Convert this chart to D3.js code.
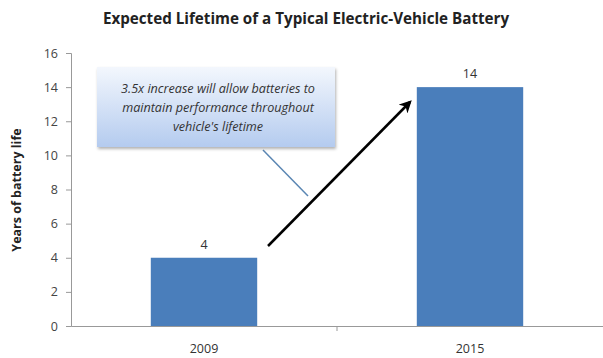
<!DOCTYPE html>
<html><head><meta charset="utf-8">
<script src="https://cdnjs.cloudflare.com/ajax/libs/d3/7.8.5/d3.min.js"></script>
<style>body{margin:0;background:#fff}svg{display:block}</style>
</head><body>
<script>
const categories = ["2009", "2015"];
const values = [4, 14];
const yTicks = [0, 2, 4, 6, 8, 10, 12, 14, 16];
const title = "Expected Lifetime of a Typical Electric-Vehicle Battery";
const yLabel = "Years of battery life";
const calloutLines = ["3.5x increase will allow batteries to", "maintain performance throughout", "vehicle's lifetime"];

const W = 603, H = 358;
const svg = d3.select("body").append("svg").attr("width", W).attr("height", H);
const font = "'Open Sans', Lato, sans-serif";

const x = d3.scaleBand().domain(categories).range([71, 603]).padding(0);
const y = d3.scaleLinear().domain([0, 16]).range([326, 53]);
const barW = x.bandwidth() * 0.4;

const defs = svg.append("defs");
const g = defs.append("linearGradient").attr("id", "cg").attr("x1", 0).attr("y1", 0).attr("x2", 0).attr("y2", 1);
g.append("stop").attr("offset", "0%").attr("stop-color", "#f3f7fd");
g.append("stop").attr("offset", "100%").attr("stop-color", "#b4cbef");
const f = defs.append("filter").attr("id", "sh").attr("x", "-10%").attr("y", "-10%").attr("width", "130%").attr("height", "140%");
f.append("feDropShadow").attr("dx", 1).attr("dy", 2).attr("stdDeviation", 1.5).attr("flood-color", "#000").attr("flood-opacity", 0.3);
const mk = defs.append("marker").attr("id", "ah").attr("viewBox", "0 0 10 10").attr("refX", 8).attr("refY", 5)
  .attr("markerWidth", 5).attr("markerHeight", 5).attr("orient", "auto").attr("markerUnits", "strokeWidth");
mk.append("path").attr("d", "M0,0 L10,5 L0,10 L3,5 Z").attr("fill", "#000");

// title
svg.append("text").attr("x", 306).attr("y", 24).attr("text-anchor", "middle")
  .attr("font-family", font).attr("font-weight", "bold").attr("font-size", 15.2).attr("fill", "#222").text(title);

// y axis
const yAxis = d3.axisLeft(y).tickValues(yTicks).tickSize(5).tickPadding(8);
const ya = svg.append("g").attr("transform", "translate(71,0)").call(yAxis);
ya.select(".domain").attr("stroke", "#999");
ya.selectAll(".tick line").attr("stroke", "#999");
ya.selectAll(".tick text").attr("font-family", font).attr("font-size", 12.5).attr("fill", "#444");

// x axis
const xa = svg.append("g").attr("transform", "translate(0,326)")
  .call(d3.axisBottom(x).tickSize(0).tickPadding(18));
xa.select(".domain").attr("stroke", "#999");
xa.selectAll(".tick text").attr("font-family", font).attr("font-size", 12.5).attr("fill", "#333");
svg.append("g").selectAll("line").data(categories.slice(1)).join("line")
  .attr("x1", d => x(d)).attr("x2", d => x(d)).attr("y1", 326).attr("y2", 331).attr("stroke", "#999");

// y label
svg.append("text").attr("transform", "translate(21,190) rotate(-90)").attr("text-anchor", "middle")
  .attr("font-family", font).attr("font-weight", "bold").attr("font-size", 12.5).attr("fill", "#222").text(yLabel);

// bars
svg.append("g").selectAll("rect").data(values).join("rect")
  .attr("x", (d, i) => x(categories[i]) + (x.bandwidth() - barW) / 2)
  .attr("width", barW).attr("y", d => y(d)).attr("height", d => y(0) - y(d))
  .attr("fill", "#4a7ebb");
svg.append("g").selectAll("text").data(values).join("text")
  .attr("x", (d, i) => x(categories[i]) + x.bandwidth() / 2).attr("y", d => y(d) - 9)
  .attr("text-anchor", "middle").attr("font-family", font).attr("font-size", 12.5).attr("fill", "#333").text(d => d);

// connector
svg.append("line").attr("x1", 263).attr("y1", 150).attr("x2", 308).attr("y2", 196)
  .attr("stroke", "#5a86b3").attr("stroke-width", 1.5);

// callout box
svg.append("rect").attr("x", 97).attr("y", 67).attr("width", 238).attr("height", 80)
  .attr("fill", "url(#cg)").attr("filter", "url(#sh)");
svg.append("g").selectAll("text").data(calloutLines).join("text")
  .attr("x", 218).attr("y", (d, i) => 93 + i * 19).attr("text-anchor", "middle")
  .attr("font-family", font).attr("font-style", "italic").attr("font-size", 12.6).attr("fill", "#333").text(d => d);

// arrow
svg.append("line").attr("x1", 268).attr("y1", 246).attr("x2", 410).attr("y2", 102)
  .attr("stroke", "#000").attr("stroke-width", 2.5).attr("marker-end", "url(#ah)");
</script>
</body></html>
